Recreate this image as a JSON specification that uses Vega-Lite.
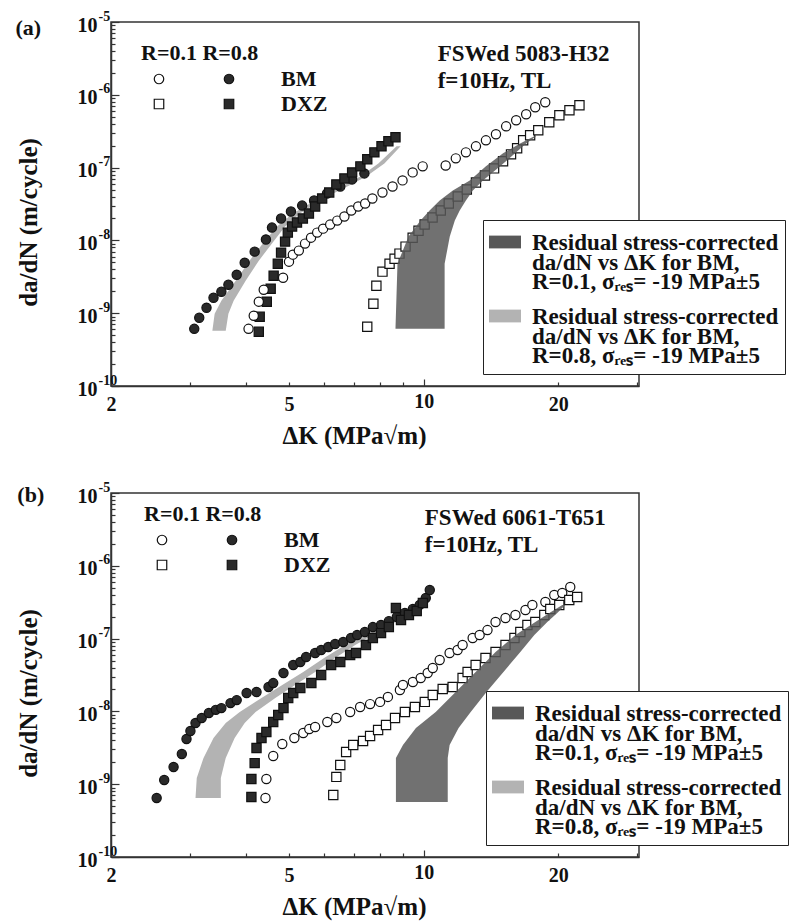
{
  "$schema": "https://vega.github.io/schema/vega-lite/v6.json",
  "background": "white",
  "padding": {"left": 14, "top": 8, "right": 5, "bottom": 5},
  "spacing": 30,
  "config": {
    "view": {"stroke": "#333", "strokeWidth": 1.5},
    "font": "Liberation Serif",
    "axis": {
      "grid": false,
      "domainColor": "#333", "domainWidth": 1.5,
      "tickColor": "#333", "tickWidth": 1.2,
      "labelFont": "Liberation Serif", "labelFontWeight": "bold", "labelFontSize": 20, "labelColor": "#111",
      "titleFont": "Liberation Serif", "titleFontWeight": "bold", "titleFontSize": 25, "titleColor": "#111",
      "labelFlush": false, "labelOverlap": false
    }
  },
  "datasets": {
    "pts_a": [
      {"s": "R08_BM", "dk": 3.07, "dadn": 6.10e-10}, {"s": "R08_BM", "dk": 3.15, "dadn": 8.65e-10}, {"s": "R08_BM", "dk": 3.27, "dadn": 1.19e-9}, {"s": "R08_BM", "dk": 3.39, "dadn": 1.63e-9}, {"s": "R08_BM", "dk": 3.53, "dadn": 1.97e-9}, {"s": "R08_BM", "dk": 3.66, "dadn": 2.46e-9}, {"s": "R08_BM", "dk": 3.82, "dadn": 3.38e-9}, {"s": "R08_BM", "dk": 3.98, "dadn": 4.94e-9}, {"s": "R08_BM", "dk": 4.19, "dadn": 7.01e-9}, {"s": "R08_BM", "dk": 4.44, "dadn": 1.03e-8}, {"s": "R08_BM", "dk": 4.58, "dadn": 1.50e-8}, {"s": "R08_BM", "dk": 4.80, "dadn": 2.00e-8}, {"s": "R08_BM", "dk": 5.05, "dadn": 2.49e-8}, {"s": "R08_BM", "dk": 5.35, "dadn": 3.01e-8}, {"s": "R08_BM", "dk": 5.69, "dadn": 3.53e-8}, {"s": "R08_BM", "dk": 6.08, "dadn": 4.41e-8}, {"s": "R08_BM", "dk": 6.51, "dadn": 5.51e-8}, {"s": "R08_BM", "dk": 6.92, "dadn": 6.88e-8}, {"s": "R08_BM", "dk": 7.37, "dadn": 8.32e-8},
      {"s": "R08_DXZ", "dk": 4.28, "dadn": 5.55e-10}, {"s": "R08_DXZ", "dk": 4.30, "dadn": 8.92e-10}, {"s": "R08_DXZ", "dk": 4.46, "dadn": 1.44e-9}, {"s": "R08_DXZ", "dk": 4.55, "dadn": 2.17e-9}, {"s": "R08_DXZ", "dk": 4.62, "dadn": 3.27e-9}, {"s": "R08_DXZ", "dk": 4.72, "dadn": 4.79e-9}, {"s": "R08_DXZ", "dk": 4.80, "dadn": 6.79e-9}, {"s": "R08_DXZ", "dk": 4.90, "dadn": 9.63e-9}, {"s": "R08_DXZ", "dk": 4.97, "dadn": 1.28e-8}, {"s": "R08_DXZ", "dk": 5.08, "dadn": 1.55e-8}, {"s": "R08_DXZ", "dk": 5.21, "dadn": 1.76e-8}, {"s": "R08_DXZ", "dk": 5.37, "dadn": 2.00e-8}, {"s": "R08_DXZ", "dk": 5.54, "dadn": 2.34e-8}, {"s": "R08_DXZ", "dk": 5.72, "dadn": 2.92e-8}, {"s": "R08_DXZ", "dk": 5.93, "dadn": 3.77e-8}, {"s": "R08_DXZ", "dk": 6.15, "dadn": 4.55e-8}, {"s": "R08_DXZ", "dk": 6.38, "dadn": 5.87e-8}, {"s": "R08_DXZ", "dk": 6.65, "dadn": 7.10e-8}, {"s": "R08_DXZ", "dk": 6.92, "dadn": 8.59e-8}, {"s": "R08_DXZ", "dk": 7.22, "dadn": 1.04e-7}, {"s": "R08_DXZ", "dk": 7.48, "dadn": 1.30e-7}, {"s": "R08_DXZ", "dk": 7.76, "dadn": 1.62e-7}, {"s": "R08_DXZ", "dk": 8.05, "dadn": 1.96e-7}, {"s": "R08_DXZ", "dk": 8.34, "dadn": 2.30e-7}, {"s": "R08_DXZ", "dk": 8.65, "dadn": 2.61e-7},
      {"s": "R01_BM", "dk": 4.06, "dadn": 6.10e-10}, {"s": "R01_BM", "dk": 4.17, "dadn": 9.21e-10}, {"s": "R01_BM", "dk": 4.28, "dadn": 1.44e-9}, {"s": "R01_BM", "dk": 4.39, "dadn": 2.10e-9}, {"s": "R01_BM", "dk": 4.85, "dadn": 3.07e-9}, {"s": "R01_BM", "dk": 5.00, "dadn": 5.10e-9}, {"s": "R01_BM", "dk": 5.10, "dadn": 6.37e-9}, {"s": "R01_BM", "dk": 5.26, "dadn": 7.24e-9}, {"s": "R01_BM", "dk": 5.43, "dadn": 9.04e-9}, {"s": "R01_BM", "dk": 5.60, "dadn": 1.09e-8}, {"s": "R01_BM", "dk": 5.78, "dadn": 1.28e-8}, {"s": "R01_BM", "dk": 5.96, "dadn": 1.45e-8}, {"s": "R01_BM", "dk": 6.18, "dadn": 1.65e-8}, {"s": "R01_BM", "dk": 6.41, "dadn": 1.87e-8}, {"s": "R01_BM", "dk": 6.65, "dadn": 2.13e-8}, {"s": "R01_BM", "dk": 6.89, "dadn": 2.57e-8}, {"s": "R01_BM", "dk": 7.14, "dadn": 2.92e-8}, {"s": "R01_BM", "dk": 7.40, "dadn": 3.21e-8}, {"s": "R01_BM", "dk": 7.68, "dadn": 3.77e-8}, {"s": "R01_BM", "dk": 8.09, "dadn": 4.55e-8}, {"s": "R01_BM", "dk": 8.52, "dadn": 5.51e-8}, {"s": "R01_BM", "dk": 8.97, "dadn": 6.67e-8}, {"s": "R01_BM", "dk": 9.45, "dadn": 8.59e-8}, {"s": "R01_BM", "dk": 9.95, "dadn": 1.04e-7}, {"s": "R01_BM", "dk": 11.20, "dadn": 1.07e-7}, {"s": "R01_BM", "dk": 11.80, "dadn": 1.34e-7}, {"s": "R01_BM", "dk": 12.43, "dadn": 1.62e-7}, {"s": "R01_BM", "dk": 13.09, "dadn": 1.96e-7}, {"s": "R01_BM", "dk": 13.78, "dadn": 2.37e-7}, {"s": "R01_BM", "dk": 14.51, "dadn": 2.87e-7}, {"s": "R01_BM", "dk": 15.29, "dadn": 3.69e-7}, {"s": "R01_BM", "dk": 16.10, "dadn": 4.47e-7}, {"s": "R01_BM", "dk": 16.95, "dadn": 5.41e-7}, {"s": "R01_BM", "dk": 17.76, "dadn": 6.75e-7}, {"s": "R01_BM", "dk": 18.70, "dadn": 7.91e-7},
      {"s": "R01_DXZ", "dk": 7.48, "dadn": 6.50e-10}, {"s": "R01_DXZ", "dk": 7.72, "dadn": 1.35e-9}, {"s": "R01_DXZ", "dk": 7.84, "dadn": 2.38e-9}, {"s": "R01_DXZ", "dk": 8.09, "dadn": 3.72e-9}, {"s": "R01_DXZ", "dk": 8.39, "dadn": 4.79e-9}, {"s": "R01_DXZ", "dk": 8.61, "dadn": 5.61e-9}, {"s": "R01_DXZ", "dk": 8.83, "dadn": 6.58e-9}, {"s": "R01_DXZ", "dk": 9.11, "dadn": 8.22e-9}, {"s": "R01_DXZ", "dk": 9.45, "dadn": 1.09e-8}, {"s": "R01_DXZ", "dk": 9.74, "dadn": 1.36e-8}, {"s": "R01_DXZ", "dk": 10.05, "dadn": 1.65e-8}, {"s": "R01_DXZ", "dk": 10.47, "dadn": 2.06e-8}, {"s": "R01_DXZ", "dk": 10.92, "dadn": 2.57e-8}, {"s": "R01_DXZ", "dk": 11.38, "dadn": 3.21e-8}, {"s": "R01_DXZ", "dk": 11.92, "dadn": 4.01e-8}, {"s": "R01_DXZ", "dk": 12.49, "dadn": 5.01e-8}, {"s": "R01_DXZ", "dk": 13.09, "dadn": 6.25e-8}, {"s": "R01_DXZ", "dk": 13.71, "dadn": 7.81e-8}, {"s": "R01_DXZ", "dk": 14.37, "dadn": 9.75e-8}, {"s": "R01_DXZ", "dk": 15.05, "dadn": 1.22e-7}, {"s": "R01_DXZ", "dk": 15.68, "dadn": 1.52e-7}, {"s": "R01_DXZ", "dk": 16.18, "dadn": 1.84e-7}, {"s": "R01_DXZ", "dk": 16.69, "dadn": 2.37e-7}, {"s": "R01_DXZ", "dk": 17.30, "dadn": 2.78e-7}, {"s": "R01_DXZ", "dk": 18.04, "dadn": 3.25e-7}, {"s": "R01_DXZ", "dk": 19.09, "dadn": 4.20e-7}, {"s": "R01_DXZ", "dk": 20.11, "dadn": 5.24e-7}, {"s": "R01_DXZ", "dk": 21.18, "dadn": 6.14e-7}, {"s": "R01_DXZ", "dk": 22.30, "dadn": 7.19e-7}
    ],
    "pts_b": [
      {"s": "R08_BM", "dk": 2.53, "dadn": 6.46e-10}, {"s": "R08_BM", "dk": 2.63, "dadn": 1.14e-9}, {"s": "R08_BM", "dk": 2.76, "dadn": 1.72e-9}, {"s": "R08_BM", "dk": 2.88, "dadn": 2.60e-9}, {"s": "R08_BM", "dk": 2.95, "dadn": 4.18e-9}, {"s": "R08_BM", "dk": 3.01, "dadn": 5.38e-9}, {"s": "R08_BM", "dk": 3.09, "dadn": 6.93e-9}, {"s": "R08_BM", "dk": 3.19, "dadn": 8.11e-9}, {"s": "R08_BM", "dk": 3.31, "dadn": 9.51e-9}, {"s": "R08_BM", "dk": 3.43, "dadn": 1.05e-8}, {"s": "R08_BM", "dk": 3.53, "dadn": 1.11e-8}, {"s": "R08_BM", "dk": 3.70, "dadn": 1.30e-8}, {"s": "R08_BM", "dk": 3.82, "dadn": 1.43e-8}, {"s": "R08_BM", "dk": 4.02, "dadn": 1.79e-8}, {"s": "R08_BM", "dk": 4.23, "dadn": 1.85e-8}, {"s": "R08_BM", "dk": 4.50, "dadn": 2.16e-8}, {"s": "R08_BM", "dk": 4.61, "dadn": 2.45e-8}, {"s": "R08_BM", "dk": 4.86, "dadn": 3.37e-8}, {"s": "R08_BM", "dk": 5.11, "dadn": 4.34e-8}, {"s": "R08_BM", "dk": 5.30, "dadn": 4.77e-8}, {"s": "R08_BM", "dk": 5.46, "dadn": 5.59e-8}, {"s": "R08_BM", "dk": 5.72, "dadn": 6.34e-8}, {"s": "R08_BM", "dk": 5.90, "dadn": 6.97e-8}, {"s": "R08_BM", "dk": 6.12, "dadn": 7.67e-8}, {"s": "R08_BM", "dk": 6.34, "dadn": 8.43e-8}, {"s": "R08_BM", "dk": 6.61, "dadn": 8.98e-8}, {"s": "R08_BM", "dk": 6.88, "dadn": 1.02e-7}, {"s": "R08_BM", "dk": 7.10, "dadn": 1.12e-7}, {"s": "R08_BM", "dk": 7.39, "dadn": 1.23e-7}, {"s": "R08_BM", "dk": 7.70, "dadn": 1.44e-7}, {"s": "R08_BM", "dk": 8.03, "dadn": 1.54e-7}, {"s": "R08_BM", "dk": 8.36, "dadn": 1.74e-7}, {"s": "R08_BM", "dk": 8.71, "dadn": 1.98e-7}, {"s": "R08_BM", "dk": 9.08, "dadn": 2.25e-7}, {"s": "R08_BM", "dk": 9.46, "dadn": 2.55e-7}, {"s": "R08_BM", "dk": 9.80, "dadn": 2.90e-7}, {"s": "R08_BM", "dk": 10.11, "dadn": 3.61e-7}, {"s": "R08_BM", "dk": 10.32, "dadn": 4.65e-7},
      {"s": "R08_DXZ", "dk": 4.12, "dadn": 6.67e-10}, {"s": "R08_DXZ", "dk": 4.12, "dadn": 1.18e-9}, {"s": "R08_DXZ", "dk": 4.19, "dadn": 1.95e-9}, {"s": "R08_DXZ", "dk": 4.23, "dadn": 3.14e-9}, {"s": "R08_DXZ", "dk": 4.34, "dadn": 4.31e-9}, {"s": "R08_DXZ", "dk": 4.45, "dadn": 5.21e-9}, {"s": "R08_DXZ", "dk": 4.61, "dadn": 7.15e-9}, {"s": "R08_DXZ", "dk": 4.73, "dadn": 8.93e-9}, {"s": "R08_DXZ", "dk": 4.86, "dadn": 1.11e-8}, {"s": "R08_DXZ", "dk": 4.98, "dadn": 1.53e-8}, {"s": "R08_DXZ", "dk": 5.11, "dadn": 1.79e-8}, {"s": "R08_DXZ", "dk": 5.30, "dadn": 2.10e-8}, {"s": "R08_DXZ", "dk": 5.61, "dadn": 2.45e-8}, {"s": "R08_DXZ", "dk": 5.90, "dadn": 3.16e-8}, {"s": "R08_DXZ", "dk": 6.21, "dadn": 4.34e-8}, {"s": "R08_DXZ", "dk": 6.51, "dadn": 4.77e-8}, {"s": "R08_DXZ", "dk": 6.85, "dadn": 5.96e-8}, {"s": "R08_DXZ", "dk": 7.06, "dadn": 6.34e-8}, {"s": "R08_DXZ", "dk": 7.43, "dadn": 8.17e-8}, {"s": "R08_DXZ", "dk": 7.70, "dadn": 1.02e-7}, {"s": "R08_DXZ", "dk": 8.03, "dadn": 1.19e-7}, {"s": "R08_DXZ", "dk": 8.36, "dadn": 1.44e-7}, {"s": "R08_DXZ", "dk": 8.67, "dadn": 2.63e-7}, {"s": "R08_DXZ", "dk": 8.90, "dadn": 1.80e-7}, {"s": "R08_DXZ", "dk": 9.27, "dadn": 2.11e-7}, {"s": "R08_DXZ", "dk": 9.65, "dadn": 2.39e-7}, {"s": "R08_DXZ", "dk": 9.96, "dadn": 3.08e-7},
      {"s": "R01_BM", "dk": 4.43, "dadn": 6.46e-10}, {"s": "R01_BM", "dk": 4.45, "dadn": 1.18e-9}, {"s": "R01_BM", "dk": 4.61, "dadn": 2.44e-9}, {"s": "R01_BM", "dk": 4.83, "dadn": 3.57e-9}, {"s": "R01_BM", "dk": 5.14, "dadn": 4.31e-9}, {"s": "R01_BM", "dk": 5.38, "dadn": 5.05e-9}, {"s": "R01_BM", "dk": 5.55, "dadn": 5.73e-9}, {"s": "R01_BM", "dk": 5.72, "dadn": 6.11e-9}, {"s": "R01_BM", "dk": 6.09, "dadn": 7.15e-9}, {"s": "R01_BM", "dk": 6.38, "dadn": 8.11e-9}, {"s": "R01_BM", "dk": 6.85, "dadn": 9.81e-9}, {"s": "R01_BM", "dk": 7.21, "dadn": 1.15e-8}, {"s": "R01_BM", "dk": 7.59, "dadn": 1.26e-8}, {"s": "R01_BM", "dk": 7.99, "dadn": 1.35e-8}, {"s": "R01_BM", "dk": 8.32, "dadn": 1.58e-8}, {"s": "R01_BM", "dk": 8.85, "dadn": 1.97e-8}, {"s": "R01_BM", "dk": 8.99, "dadn": 2.31e-8}, {"s": "R01_BM", "dk": 9.46, "dadn": 2.53e-8}, {"s": "R01_BM", "dk": 9.85, "dadn": 2.88e-8}, {"s": "R01_BM", "dk": 10.21, "dadn": 3.37e-8}, {"s": "R01_BM", "dk": 10.48, "dadn": 3.95e-8}, {"s": "R01_BM", "dk": 10.86, "dadn": 5.08e-8}, {"s": "R01_BM", "dk": 11.43, "dadn": 6.34e-8}, {"s": "R01_BM", "dk": 11.91, "dadn": 6.97e-8}, {"s": "R01_BM", "dk": 12.22, "dadn": 8.17e-8}, {"s": "R01_BM", "dk": 12.87, "dadn": 1.02e-7}, {"s": "R01_BM", "dk": 13.34, "dadn": 1.12e-7}, {"s": "R01_BM", "dk": 13.89, "dadn": 1.31e-7}, {"s": "R01_BM", "dk": 14.48, "dadn": 1.69e-7}, {"s": "R01_BM", "dk": 15.24, "dadn": 1.92e-7}, {"s": "R01_BM", "dk": 16.04, "dadn": 2.11e-7}, {"s": "R01_BM", "dk": 16.89, "dadn": 2.47e-7}, {"s": "R01_BM", "dk": 17.50, "dadn": 2.90e-7}, {"s": "R01_BM", "dk": 18.71, "dadn": 3.18e-7}, {"s": "R01_BM", "dk": 19.59, "dadn": 3.97e-7}, {"s": "R01_BM", "dk": 20.41, "dadn": 4.23e-7}, {"s": "R01_BM", "dk": 21.27, "dadn": 5.12e-7},
      {"s": "R01_DXZ", "dk": 6.28, "dadn": 7.11e-10}, {"s": "R01_DXZ", "dk": 6.38, "dadn": 1.26e-9}, {"s": "R01_DXZ", "dk": 6.51, "dadn": 1.84e-9}, {"s": "R01_DXZ", "dk": 6.71, "dadn": 2.77e-9}, {"s": "R01_DXZ", "dk": 6.96, "dadn": 3.46e-9}, {"s": "R01_DXZ", "dk": 7.32, "dadn": 3.92e-9}, {"s": "R01_DXZ", "dk": 7.59, "dadn": 4.59e-9}, {"s": "R01_DXZ", "dk": 7.91, "dadn": 5.55e-9}, {"s": "R01_DXZ", "dk": 8.24, "dadn": 6.50e-9}, {"s": "R01_DXZ", "dk": 8.63, "dadn": 8.11e-9}, {"s": "R01_DXZ", "dk": 9.08, "dadn": 9.81e-9}, {"s": "R01_DXZ", "dk": 9.56, "dadn": 1.15e-8}, {"s": "R01_DXZ", "dk": 10.06, "dadn": 1.35e-8}, {"s": "R01_DXZ", "dk": 10.48, "dadn": 1.68e-8}, {"s": "R01_DXZ", "dk": 11.03, "dadn": 2.03e-8}, {"s": "R01_DXZ", "dk": 11.61, "dadn": 2.16e-8}, {"s": "R01_DXZ", "dk": 12.22, "dadn": 2.88e-8}, {"s": "R01_DXZ", "dk": 12.54, "dadn": 3.48e-8}, {"s": "R01_DXZ", "dk": 13.07, "dadn": 4.34e-8}, {"s": "R01_DXZ", "dk": 13.75, "dadn": 5.42e-8}, {"s": "R01_DXZ", "dk": 14.48, "dadn": 6.55e-8}, {"s": "R01_DXZ", "dk": 15.24, "dadn": 8.17e-8}, {"s": "R01_DXZ", "dk": 15.96, "dadn": 1.02e-7}, {"s": "R01_DXZ", "dk": 16.45, "dadn": 1.23e-7}, {"s": "R01_DXZ", "dk": 17.06, "dadn": 1.54e-7}, {"s": "R01_DXZ", "dk": 17.77, "dadn": 1.69e-7}, {"s": "R01_DXZ", "dk": 18.61, "dadn": 2.11e-7}, {"s": "R01_DXZ", "dk": 19.19, "dadn": 2.55e-7}, {"s": "R01_DXZ", "dk": 20.10, "dadn": 2.90e-7}, {"s": "R01_DXZ", "dk": 21.16, "dadn": 3.39e-7}, {"s": "R01_DXZ", "dk": 22.04, "dadn": 3.73e-7}
    ],
    "band_a": [
      {"band": "dark", "y": 6.10e-10, "xlo": 8.65, "xhi": 11.14}, {"band": "dark", "y": 4.79e-9, "xlo": 8.74, "xhi": 11.14}, {"band": "dark", "y": 1.13e-8, "xlo": 9.25, "xhi": 11.44}, {"band": "dark", "y": 1.87e-8, "xlo": 9.84, "xhi": 11.74}, {"band": "dark", "y": 2.57e-8, "xlo": 10.31, "xhi": 12.04}, {"band": "dark", "y": 3.53e-8, "xlo": 10.86, "xhi": 12.43}, {"band": "dark", "y": 4.85e-8, "xlo": 11.62, "xhi": 12.88}, {"band": "dark", "y": 6.67e-8, "xlo": 12.68, "xhi": 13.57}, {"band": "dark", "y": 1.04e-7, "xlo": 13.78, "xhi": 14.82}, {"band": "dark", "y": 1.57e-7, "xlo": 15.05, "xhi": 16.01}, {"band": "dark", "y": 2.15e-7, "xlo": 16.43, "xhi": 16.95}, {"band": "dark", "y": 2.69e-7, "xlo": 17.67, "xhi": 17.85},
      {"band": "light", "y": 5.73e-10, "xlo": 3.37, "xhi": 3.61}, {"band": "light", "y": 9.81e-10, "xlo": 3.41, "xhi": 3.66}, {"band": "light", "y": 1.48e-9, "xlo": 3.53, "xhi": 3.76}, {"band": "light", "y": 2.79e-9, "xlo": 3.80, "xhi": 4.00}, {"band": "light", "y": 5.27e-9, "xlo": 4.08, "xhi": 4.28}, {"band": "light", "y": 9.04e-9, "xlo": 4.37, "xhi": 4.58}, {"band": "light", "y": 1.55e-8, "xlo": 4.70, "xhi": 4.90}, {"band": "light", "y": 2.34e-8, "xlo": 5.10, "xhi": 5.29}, {"band": "light", "y": 3.21e-8, "xlo": 5.57, "xhi": 5.75}, {"band": "light", "y": 4.41e-8, "xlo": 6.08, "xhi": 6.28}, {"band": "light", "y": 5.69e-8, "xlo": 6.61, "xhi": 6.82}, {"band": "light", "y": 7.57e-8, "xlo": 7.22, "xhi": 7.44}, {"band": "light", "y": 1.14e-7, "xlo": 7.92, "xhi": 8.17}, {"band": "light", "y": 1.96e-7, "xlo": 8.70, "xhi": 8.88}
    ],
    "band_b": [
      {"band": "dark", "y": 5.70e-10, "xlo": 8.67, "xhi": 11.32}, {"band": "dark", "y": 2.29e-9, "xlo": 8.67, "xhi": 11.32}, {"band": "dark", "y": 3.46e-9, "xlo": 8.99, "xhi": 11.43}, {"band": "dark", "y": 5.92e-9, "xlo": 9.61, "xhi": 11.97}, {"band": "dark", "y": 9.81e-9, "xlo": 10.64, "xhi": 12.74}, {"band": "dark", "y": 1.85e-8, "xlo": 11.79, "xhi": 13.82}, {"band": "dark", "y": 3.48e-8, "xlo": 13.07, "xhi": 15.08}, {"band": "dark", "y": 6.55e-8, "xlo": 14.48, "xhi": 16.45}, {"band": "dark", "y": 1.12e-7, "xlo": 16.04, "xhi": 17.68}, {"band": "dark", "y": 1.69e-7, "xlo": 17.77, "xhi": 18.90}, {"band": "dark", "y": 2.25e-7, "xlo": 19.10, "xhi": 19.89}, {"band": "dark", "y": 2.90e-7, "xlo": 20.41, "xhi": 20.73},
      {"band": "light", "y": 6.46e-10, "xlo": 3.09, "xhi": 3.52}, {"band": "light", "y": 1.22e-9, "xlo": 3.11, "xhi": 3.52}, {"band": "light", "y": 2.29e-9, "xlo": 3.22, "xhi": 3.61}, {"band": "light", "y": 4.31e-9, "xlo": 3.39, "xhi": 3.78}, {"band": "light", "y": 6.93e-9, "xlo": 3.61, "xhi": 3.98}, {"band": "light", "y": 9.81e-9, "xlo": 3.88, "xhi": 4.21}, {"band": "light", "y": 1.53e-8, "xlo": 4.34, "xhi": 4.66}, {"band": "light", "y": 2.31e-8, "xlo": 4.83, "xhi": 5.16}, {"band": "light", "y": 3.48e-8, "xlo": 5.38, "xhi": 5.72}, {"band": "light", "y": 5.42e-8, "xlo": 5.99, "xhi": 6.34}, {"band": "light", "y": 8.17e-8, "xlo": 6.68, "xhi": 7.03}, {"band": "light", "y": 1.12e-7, "xlo": 7.39, "xhi": 7.70}, {"band": "light", "y": 1.80e-7, "xlo": 8.54, "xhi": 8.81}, {"band": "light", "y": 2.90e-7, "xlo": 9.96, "xhi": 10.16}
    ]
  },
  "resolve": {
    "scale": {"fill": "independent", "shape": "independent", "stroke": "independent", "color": "independent"},
    "legend": {"fill": "independent", "shape": "independent", "stroke": "independent", "color": "independent"}
  },
  "vconcat": [
    {
      "width": 528, "height": 364,
      "resolve": {"axis": {"y": "independent"}},
      "layer": [
        {
          "data": {"name": "band_a"},
          "transform": [{"filter": "datum.band == 'light'"}],
          "mark": {"type": "area", "orient": "horizontal", "opacity": 1},
          "encoding": {
            "y": {"field": "y", "type": "quantitative", "scale": {"type": "log", "domain": [1e-10, 1e-5], "nice": false},
              "axis": {"orient": "left", "title": "da/dN (m/cycle)", "values": [1e-10,2e-10,3e-10,4e-10,5e-10,6e-10,7e-10,8e-10,9e-10,1e-9,2e-9,3e-9,4e-9,5e-9,6e-9,7e-9,8e-9,9e-9,1e-8,2e-8,3e-8,4e-8,5e-8,6e-8,7e-8,8e-8,9e-8,1e-7,2e-7,3e-7,4e-7,5e-7,6e-7,7e-7,8e-7,9e-7,1e-6,2e-6,3e-6,4e-6,5e-6,6e-6,7e-6,8e-6,9e-6,1e-5],
                "labelExpr": "abs(log(datum.value)/LN10 - round(log(datum.value)/LN10)) > 0.001 ? '' : '10'",
                "tickSize": {"condition": {"test": "abs(log(datum.value)/LN10 - round(log(datum.value)/LN10)) < 0.001", "value": -8}, "value": -4},
                "labelPadding": 22, "labelOffset": 3, "titleX": -83, "titleY": 200, "titleBaseline": "middle", "titleAlign": "center"}},
            "x": {"field": "xlo", "type": "quantitative", "scale": {"type": "log", "domain": [2, 30.3], "nice": false},
              "axis": {"title": "ΔK (MPa√m)", "values": [2,3,4,5,6,7,8,9,10,20,30],
                "labelExpr": "indexof([2,5,10,20], datum.value) >= 0 ? datum.label : ''",
                "tickSize": {"condition": {"test": "datum.value == 10", "value": -7}, "value": -4},
                "labelPadding": 12, "titleX": 243, "titleY": 37}},
            "x2": {"field": "xhi"},
            "color": {"field": "band", "type": "nominal", "scale": {"domain": ["dark", "light"], "range": ["#585858", "#b3b3b3"]},
              "legend": {"orient": "none", "legendX": 372, "legendY": 198, "title": null, "strokeColor": "#222", "fillColor": "white", "padding": 6,
                "symbolType": "M-1,-0.4H1V0.4H-1Z", "symbolSize": 1024, "symbolOpacity": 1, "symbolStrokeWidth": 0,
                "labelExpr": "datum.value == 'dark' ? ['Residual stress-corrected', 'da/dN vs ΔK for BM,', 'R=0.1, σᵣₑₛ= -19 MPa±5'] : ['Residual stress-corrected', 'da/dN vs ΔK for BM,', 'R=0.8, σᵣₑₛ= -19 MPa±5']",
                "labelFont": "Liberation Serif", "labelFontWeight": "bold", "labelFontSize": 23, "labelColor": "#111", "labelLimit": 600, "labelOffset": 11, "labelBaseline": "top", "rowPadding": 6,
                "encode": {"labels": {"update": {"lineHeight": {"value": 19.5}, "dy": {"value": -10}}}}}}
          }
        },
        {
          "data": {"name": "band_a"},
          "mark": {"type": "point", "opacity": 0},
          "encoding": {
            "y": {"field": "y", "type": "quantitative",
              "axis": {"orient": "left", "title": null, "domain": false, "ticks": false, "tickSize": 0, "values": [1e-10, 1e-9, 1e-8, 1e-7, 1e-6, 1e-5],
                "labelExpr": "['-10','-9','-8','-7','-6','-5'][round(log(datum.value)/LN10) + 10]",
                "labelAlign": "left", "labelBaseline": "middle", "labelPadding": 13, "labelOffset": -6, "labelFontSize": 14}}
          }
        },
        {
          "data": {"name": "pts_a"},
          "mark": {"type": "point", "filled": true, "opacity": 1, "strokeWidth": 1.2, "size": 85},
          "encoding": {
            "x": {"field": "dk", "type": "quantitative"},
            "y": {"field": "dadn", "type": "quantitative", "axis": null},
            "shape": {"field": "s", "type": "nominal", "scale": {"domain": ["R01_BM", "R08_BM", "R01_DXZ", "R08_DXZ"], "range": ["circle", "circle", "square", "square"]},
              "legend": {"orient": "none", "direction": "horizontal", "legendX": 30, "legendY": 21, "title": "R=0.1\u00a0R=0.8", "titleFont": "Liberation Serif", "titleFontSize": 22, "titleFontWeight": "bold", "titleColor": "#111", "titlePadding": 3, "columns": 2, "columnPadding": 0, "rowPadding": 3, "symbolOffset": 7, "symbolSize": 90, "symbolStrokeWidth": 1.2, "labelExpr": "datum.value == 'R08_BM' ? '\u00a0\u00a0\u00a0\u00a0\u00a0\u00a0\u00a0\u00a0\u00a0BM' : datum.value == 'R08_DXZ' ? '\u00a0\u00a0\u00a0\u00a0\u00a0\u00a0\u00a0\u00a0\u00a0DXZ' : ''", "labelOffset": 41, "labelFont": "Liberation Serif", "labelFontSize": 22, "labelFontWeight": "bold", "labelColor": "#111", "padding": 0}},
            "fill": {"field": "s", "type": "nominal", "scale": {"domain": ["R01_BM", "R08_BM", "R01_DXZ", "R08_DXZ"], "range": ["white", "#2a2a2a", "white", "#2a2a2a"]},
              "legend": {"orient": "none", "direction": "horizontal", "legendX": 30, "legendY": 21, "title": "R=0.1\u00a0R=0.8", "titleFont": "Liberation Serif", "titleFontSize": 22, "titleFontWeight": "bold", "titleColor": "#111", "titlePadding": 3, "columns": 2, "columnPadding": 0, "rowPadding": 3, "symbolOffset": 7, "symbolSize": 90, "symbolStrokeWidth": 1.2, "labelExpr": "datum.value == 'R08_BM' ? '\u00a0\u00a0\u00a0\u00a0\u00a0\u00a0\u00a0\u00a0\u00a0BM' : datum.value == 'R08_DXZ' ? '\u00a0\u00a0\u00a0\u00a0\u00a0\u00a0\u00a0\u00a0\u00a0DXZ' : ''", "labelOffset": 41, "labelFont": "Liberation Serif", "labelFontSize": 22, "labelFontWeight": "bold", "labelColor": "#111", "padding": 0}},
            "stroke": {"field": "s", "type": "nominal", "scale": {"domain": ["R01_BM", "R08_BM", "R01_DXZ", "R08_DXZ"], "range": ["#111", "#111", "#111", "#111"]},
              "legend": {"orient": "none", "direction": "horizontal", "legendX": 30, "legendY": 21, "title": "R=0.1\u00a0R=0.8", "titleFont": "Liberation Serif", "titleFontSize": 22, "titleFontWeight": "bold", "titleColor": "#111", "titlePadding": 3, "columns": 2, "columnPadding": 0, "rowPadding": 3, "symbolOffset": 7, "symbolSize": 90, "symbolStrokeWidth": 1.2, "labelExpr": "datum.value == 'R08_BM' ? '\u00a0\u00a0\u00a0\u00a0\u00a0\u00a0\u00a0\u00a0\u00a0BM' : datum.value == 'R08_DXZ' ? '\u00a0\u00a0\u00a0\u00a0\u00a0\u00a0\u00a0\u00a0\u00a0DXZ' : ''", "labelOffset": 41, "labelFont": "Liberation Serif", "labelFontSize": 22, "labelFontWeight": "bold", "labelColor": "#111", "padding": 0}}
          }
        },
        {
          "data": {"name": "band_a"},
          "transform": [{"filter": "datum.band == 'dark'"}],
          "mark": {"type": "area", "orient": "horizontal", "opacity": 0.85},
          "encoding": {
            "y": {"field": "y", "type": "quantitative", "axis": null},
            "x": {"field": "xlo", "type": "quantitative"},
            "x2": {"field": "xhi"},
            "color": {"field": "band", "type": "nominal"}
          }
        },
        {
          "data": {"values": [{}]},
          "mark": {"type": "text", "text": ["FSWed 5083-H32", "f=10Hz, TL"], "align": "left", "baseline": "alphabetic", "font": "Liberation Serif", "fontWeight": "bold", "fontSize": 23, "lineHeight": 27, "color": "#111"},
          "encoding": {"x": {"datum": 10.75}, "y": {"datum": 2.95e-6, "axis": null}}
        },
        {
          "data": {"values": [{}]},
          "mark": {"type": "text", "text": "(a)", "align": "left", "baseline": "middle", "font": "Liberation Serif", "fontWeight": "bold", "fontSize": 22, "color": "#111"},
          "encoding": {"x": {"datum": 1.223}, "y": {"datum": 8.26e-6, "axis": null}}
        }
      ]
    },
    {
      "width": 528, "height": 364,
      "resolve": {"axis": {"y": "independent"}},
      "layer": [
        {
          "data": {"name": "band_b"},
          "transform": [{"filter": "datum.band == 'light'"}],
          "mark": {"type": "area", "orient": "horizontal", "opacity": 1},
          "encoding": {
            "y": {"field": "y", "type": "quantitative", "scale": {"type": "log", "domain": [1e-10, 1e-5], "nice": false},
              "axis": {"orient": "left", "title": "da/dN (m/cycle)", "values": [1e-10,2e-10,3e-10,4e-10,5e-10,6e-10,7e-10,8e-10,9e-10,1e-9,2e-9,3e-9,4e-9,5e-9,6e-9,7e-9,8e-9,9e-9,1e-8,2e-8,3e-8,4e-8,5e-8,6e-8,7e-8,8e-8,9e-8,1e-7,2e-7,3e-7,4e-7,5e-7,6e-7,7e-7,8e-7,9e-7,1e-6,2e-6,3e-6,4e-6,5e-6,6e-6,7e-6,8e-6,9e-6,1e-5],
                "labelExpr": "abs(log(datum.value)/LN10 - round(log(datum.value)/LN10)) > 0.001 ? '' : '10'",
                "tickSize": {"condition": {"test": "abs(log(datum.value)/LN10 - round(log(datum.value)/LN10)) < 0.001", "value": -8}, "value": -4},
                "labelPadding": 22, "labelOffset": 3, "titleX": -83, "titleY": 200, "titleBaseline": "middle", "titleAlign": "center"}},
            "x": {"field": "xlo", "type": "quantitative", "scale": {"type": "log", "domain": [2, 30.3], "nice": false},
              "axis": {"title": "ΔK (MPa√m)", "values": [2,3,4,5,6,7,8,9,10,20,30],
                "labelExpr": "indexof([2,5,10,20], datum.value) >= 0 ? datum.label : ''",
                "tickSize": {"condition": {"test": "datum.value == 10", "value": -7}, "value": -4},
                "labelPadding": 12, "titleX": 243, "titleY": 37}},
            "x2": {"field": "xhi"},
            "color": {"field": "band", "type": "nominal", "scale": {"domain": ["dark", "light"], "range": ["#585858", "#b3b3b3"]},
              "legend": {"orient": "none", "legendX": 375, "legendY": 198, "title": null, "strokeColor": "#222", "fillColor": "white", "padding": 6,
                "symbolType": "M-1,-0.4H1V0.4H-1Z", "symbolSize": 1024, "symbolOpacity": 1, "symbolStrokeWidth": 0,
                "labelExpr": "datum.value == 'dark' ? ['Residual stress-corrected', 'da/dN vs ΔK for BM,', 'R=0.1, σᵣₑₛ= -19 MPa±5'] : ['Residual stress-corrected', 'da/dN vs ΔK for BM,', 'R=0.8, σᵣₑₛ= -19 MPa±5']",
                "labelFont": "Liberation Serif", "labelFontWeight": "bold", "labelFontSize": 23, "labelColor": "#111", "labelLimit": 600, "labelOffset": 11, "labelBaseline": "top", "rowPadding": 6,
                "encode": {"labels": {"update": {"lineHeight": {"value": 19.5}, "dy": {"value": -10}}}}}}
          }
        },
        {
          "data": {"name": "band_b"},
          "mark": {"type": "point", "opacity": 0},
          "encoding": {
            "y": {"field": "y", "type": "quantitative",
              "axis": {"orient": "left", "title": null, "domain": false, "ticks": false, "tickSize": 0, "values": [1e-10, 1e-9, 1e-8, 1e-7, 1e-6, 1e-5],
                "labelExpr": "['-10','-9','-8','-7','-6','-5'][round(log(datum.value)/LN10) + 10]",
                "labelAlign": "left", "labelBaseline": "middle", "labelPadding": 13, "labelOffset": -6, "labelFontSize": 14}}
          }
        },
        {
          "data": {"name": "pts_b"},
          "mark": {"type": "point", "filled": true, "opacity": 1, "strokeWidth": 1.2, "size": 85},
          "encoding": {
            "x": {"field": "dk", "type": "quantitative"},
            "y": {"field": "dadn", "type": "quantitative", "axis": null},
            "shape": {"field": "s", "type": "nominal", "scale": {"domain": ["R01_BM", "R08_BM", "R01_DXZ", "R08_DXZ"], "range": ["circle", "circle", "square", "square"]},
              "legend": {"orient": "none", "direction": "horizontal", "legendX": 33, "legendY": 11, "title": "R=0.1\u00a0R=0.8", "titleFont": "Liberation Serif", "titleFontSize": 22, "titleFontWeight": "bold", "titleColor": "#111", "titlePadding": 3, "columns": 2, "columnPadding": 0, "rowPadding": 3, "symbolOffset": 7, "symbolSize": 90, "symbolStrokeWidth": 1.2, "labelExpr": "datum.value == 'R08_BM' ? '\u00a0\u00a0\u00a0\u00a0\u00a0\u00a0\u00a0\u00a0\u00a0BM' : datum.value == 'R08_DXZ' ? '\u00a0\u00a0\u00a0\u00a0\u00a0\u00a0\u00a0\u00a0\u00a0DXZ' : ''", "labelOffset": 41, "labelFont": "Liberation Serif", "labelFontSize": 22, "labelFontWeight": "bold", "labelColor": "#111", "padding": 0}},
            "fill": {"field": "s", "type": "nominal", "scale": {"domain": ["R01_BM", "R08_BM", "R01_DXZ", "R08_DXZ"], "range": ["white", "#2a2a2a", "white", "#2a2a2a"]},
              "legend": {"orient": "none", "direction": "horizontal", "legendX": 33, "legendY": 11, "title": "R=0.1\u00a0R=0.8", "titleFont": "Liberation Serif", "titleFontSize": 22, "titleFontWeight": "bold", "titleColor": "#111", "titlePadding": 3, "columns": 2, "columnPadding": 0, "rowPadding": 3, "symbolOffset": 7, "symbolSize": 90, "symbolStrokeWidth": 1.2, "labelExpr": "datum.value == 'R08_BM' ? '\u00a0\u00a0\u00a0\u00a0\u00a0\u00a0\u00a0\u00a0\u00a0BM' : datum.value == 'R08_DXZ' ? '\u00a0\u00a0\u00a0\u00a0\u00a0\u00a0\u00a0\u00a0\u00a0DXZ' : ''", "labelOffset": 41, "labelFont": "Liberation Serif", "labelFontSize": 22, "labelFontWeight": "bold", "labelColor": "#111", "padding": 0}},
            "stroke": {"field": "s", "type": "nominal", "scale": {"domain": ["R01_BM", "R08_BM", "R01_DXZ", "R08_DXZ"], "range": ["#111", "#111", "#111", "#111"]},
              "legend": {"orient": "none", "direction": "horizontal", "legendX": 33, "legendY": 11, "title": "R=0.1\u00a0R=0.8", "titleFont": "Liberation Serif", "titleFontSize": 22, "titleFontWeight": "bold", "titleColor": "#111", "titlePadding": 3, "columns": 2, "columnPadding": 0, "rowPadding": 3, "symbolOffset": 7, "symbolSize": 90, "symbolStrokeWidth": 1.2, "labelExpr": "datum.value == 'R08_BM' ? '\u00a0\u00a0\u00a0\u00a0\u00a0\u00a0\u00a0\u00a0\u00a0BM' : datum.value == 'R08_DXZ' ? '\u00a0\u00a0\u00a0\u00a0\u00a0\u00a0\u00a0\u00a0\u00a0DXZ' : ''", "labelOffset": 41, "labelFont": "Liberation Serif", "labelFontSize": 22, "labelFontWeight": "bold", "labelColor": "#111", "padding": 0}}
          }
        },
        {
          "data": {"name": "band_b"},
          "transform": [{"filter": "datum.band == 'dark'"}],
          "mark": {"type": "area", "orient": "horizontal", "opacity": 0.85},
          "encoding": {
            "y": {"field": "y", "type": "quantitative", "axis": null},
            "x": {"field": "xlo", "type": "quantitative"},
            "x2": {"field": "xhi"},
            "color": {"field": "band", "type": "nominal"}
          }
        },
        {
          "data": {"values": [{}]},
          "mark": {"type": "text", "text": ["FSWed 6061-T651", "f=10Hz, TL"], "align": "left", "baseline": "alphabetic", "font": "Liberation Serif", "fontWeight": "bold", "fontSize": 23, "lineHeight": 27, "color": "#111"},
          "encoding": {"x": {"datum": 10.06}, "y": {"datum": 3.69e-6, "axis": null}}
        },
        {
          "data": {"values": [{}]},
          "mark": {"type": "text", "text": "(b)", "align": "left", "baseline": "middle", "font": "Liberation Serif", "fontWeight": "bold", "fontSize": 22, "color": "#111"},
          "encoding": {"x": {"datum": 1.235}, "y": {"datum": 9.4e-6, "axis": null}}
        }
      ]
    }
  ]
}
